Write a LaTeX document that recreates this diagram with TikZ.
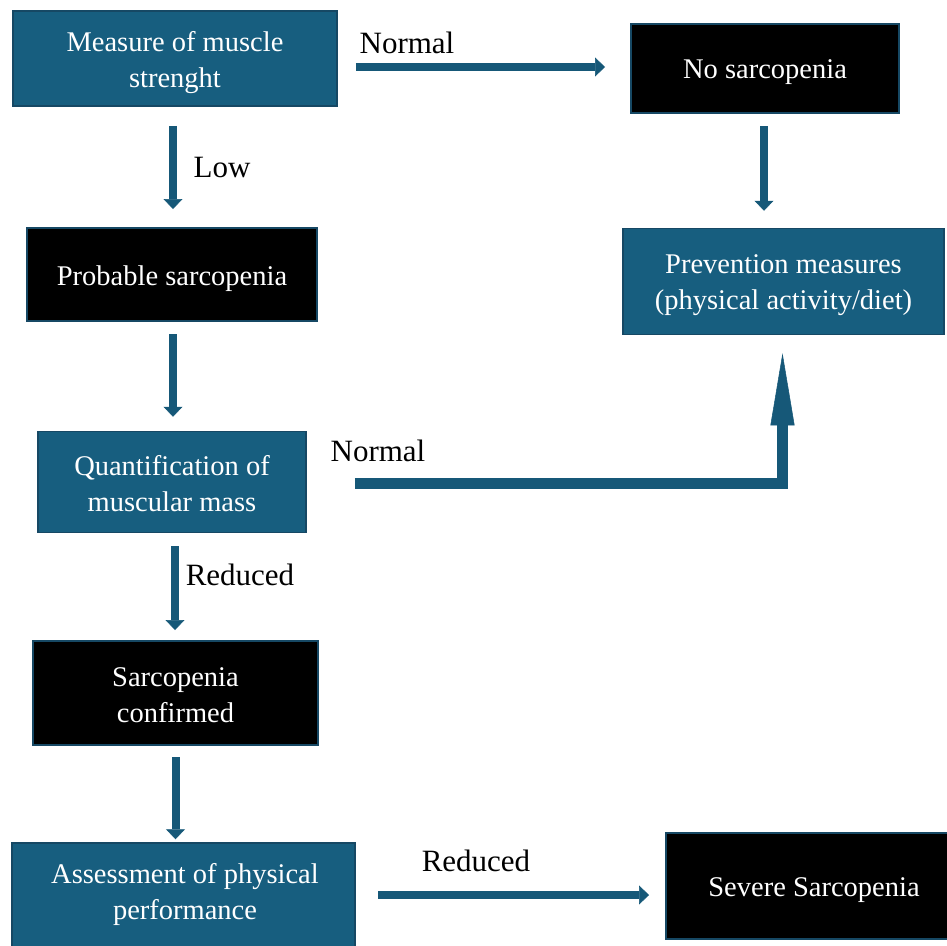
\documentclass[tikz,border=0pt]{standalone}
\usepackage{fontspec}
\setmainfont{Liberation Serif}
\usetikzlibrary{calc,arrows.meta}
\definecolor{boxblue}{RGB}{23,94,127}
\definecolor{edgeblue}{RGB}{22,72,100}
\definecolor{arrblue}{RGB}{22,88,120}
\begin{document}
\begin{tikzpicture}[x=1pt,y=-1pt,
  boxtxt/.style={text=white,align=center,font=\fontsize{28.5}{36}\selectfont,inner sep=0pt,yshift=-4pt},
  bluebox/.style={draw=edgeblue,line width=1.5pt,fill=boxblue,inner sep=0pt},
  blackbox/.style={draw=edgeblue,line width=2pt,fill=black,inner sep=0pt},
  lbl/.style={font=\fontsize{31}{36}\selectfont,text=black,inner sep=0pt},
  arr/.style={line width=8pt,draw=arrblue,
    -{Triangle[length=10pt,width=19pt,line width=0.5pt]}},
  bigarr/.style={line width=11pt,draw=arrblue,line join=miter,
    -{Triangle[length=72pt,width=24pt,line width=0.5pt]}}]
\useasboundingbox (0,0) rectangle (947,945);
\clip (0,0) rectangle (947,945);

\node[bluebox,minimum width=324pt,minimum height=95pt,
  label={[boxtxt]center:{Measure of muscle\\strenght}}] (A) at (175,58.5) {};
\node[blackbox,minimum width=268pt,minimum height=89pt,
  label={[boxtxt]center:{No sarcopenia}}] (B) at (765,68.5) {};
\node[bluebox,minimum width=321pt,minimum height=106pt,
  label={[boxtxt]center:{Prevention measures\\(physical activity/diet)}}] (C) at (783.5,281.5) {};
\node[blackbox,minimum width=290pt,minimum height=93pt,
  label={[boxtxt]center:{Probable sarcopenia}}] (D) at (172,274.5) {};
\node[bluebox,minimum width=268pt,minimum height=101pt,
  label={[boxtxt,yshift=2pt]center:{Quantification of\\muscular mass}}] (E) at (172,482) {};
\node[blackbox,minimum width=285pt,minimum height=104pt,
  label={[boxtxt,yshift=2pt]center:{Sarcopenia\\confirmed}}] (F) at (175.5,693) {};
\node[bluebox,minimum width=343pt,minimum height=114pt] (G) at (183.5,900) {};
\node[boxtxt,yshift=0pt] (Gt) at (185,890) {Assessment of physical\\performance};
\node[blackbox,minimum width=290pt,minimum height=106pt,
  label={[boxtxt,xshift=3pt]center:{Severe Sarcopenia}}] (H) at (811,886) {};

% connectors
\draw[arr] ($(A.east)+(18,8.5)$) -- ($(B.west)+(-25,-1.5)$);
\node[lbl] (n1) at (407,43) {Normal};

\coordinate (b1) at ($(B.south)+(-1,12)$);
\coordinate (c1) at ($(C.north)+(0,-17)$);
\draw[arr] (b1) -- (b1 |- c1);

\coordinate (a1) at ($(A.south)+(-2,19)$);
\coordinate (d1) at ($(D.north)+(0,-18)$);
\draw[arr] (a1) -- (a1 |- d1);
\node[lbl] (n2) at (222,167) {Low};

\coordinate (d2) at ($(D.south)+(1,12)$);
\coordinate (e1) at ($(E.north)+(0,-14)$);
\draw[arr] (d2) -- (d2 |- e1);

\coordinate (e2) at ($(E.east)+(48,1.5)$);
\coordinate (c2) at ($(C.south)+(-1,18)$);
\draw[bigarr] (e2) -| (c2);
\node[lbl] (n3) at (378,451) {Normal};

\coordinate (e3) at ($(E.south)+(3,13)$);
\coordinate (f1) at ($(F.north)+(0,-10)$);
\draw[arr] (e3) -- (e3 |- f1);
\node[lbl] (n4) at (240,575) {Reduced};

\coordinate (f2) at ($(F.south)+(0,11)$);
\coordinate (g1) at ($(G.north)+(0,-3)$);
\draw[arr] (f2) -- (f2 |- g1);

\coordinate (g2) at (378,895);
\coordinate (h1) at ($(H.west)+(-16,0)$);
\draw[arr] (g2) -- (g2 -| h1);
\node[lbl] (n5) at (476,861) {Reduced};
\end{tikzpicture}
\end{document}
